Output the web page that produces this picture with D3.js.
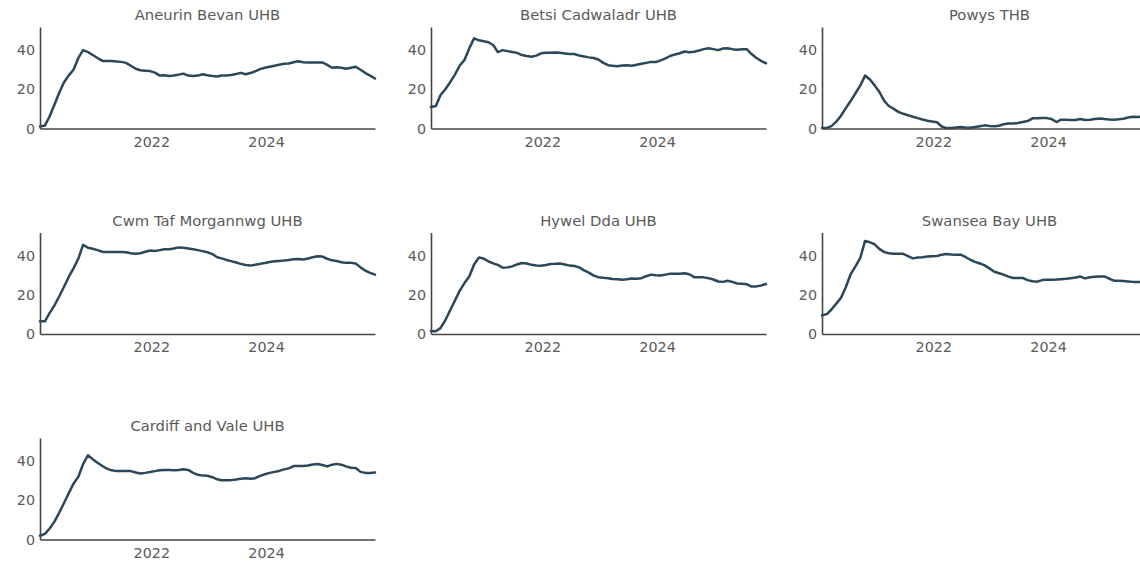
<!DOCTYPE html>
<html>
<head>
<meta charset="utf-8">
<script src="https://cdn.jsdelivr.net/npm/d3@7"></script>
<style>
  html, body { margin: 0; padding: 0; background: #fff; overflow: hidden; }
  svg { display: block; }
</style>
</head>
<body>
<svg id="chart" width="1140" height="563"></svg>
<script>
// ---- Data (monthly values, Jan 2020 – Nov 2025) ----
const boards = [
  "Aneurin Bevan UHB", "Betsi Cadwaladr UHB", "Powys THB",
  "Cwm Taf Morgannwg UHB", "Hywel Dda UHB", "Swansea Bay UHB",
  "Cardiff and Vale UHB"
];

const startMonth = "2020-01-24";
const monthCount = 71;

const aneurinBevan = [1,1.5,6,12,18,23.5,27,30,36,40,39,37.5,36,34.5,34.5,34.4,34.2,34,33.5,32,30.5,29.7,29.5,29.3,28.5,27,27.2,26.8,27,27.5,28,27,26.8,27,27.7,27.2,26.8,26.5,27,27,27.3,27.8,28.4,27.7,28.3,29.2,30.3,31,31.5,32,32.5,33,33.2,33.8,34.3,33.8,33.7,33.7,33.7,33.7,32.5,31,31.2,31,30.5,31,31.5,30,28.3,27,25.5];
const betsiCadwaladr = [11,11.5,17,20,23.5,27.5,32,35,41,46,45,44.5,44,42.5,39,40,39.5,39,38.6,37.5,37,36.6,37.2,38.4,38.6,38.6,38.8,38.6,38.3,38,38,37.2,36.8,36.3,36,35.2,33.5,32.3,32,31.8,32.2,32.3,32,32.5,33,33.5,34,33.9,34.8,35.8,37,37.8,38.4,39.3,38.9,39.2,39.8,40.5,41,40.5,40,40.8,41,40.5,40.2,40.4,40.5,38,36,34.5,33.3];
const powys = [0.3,0.3,1.2,3.5,6.5,10.5,14,18,22,27,25,22,18.5,14,11.5,10,8.5,7.5,6.8,6,5.3,4.6,4,3.6,3.2,1,0.2,0.3,0.5,0.8,0.5,0.4,0.8,1.2,1.6,1.3,1.2,1.4,2.2,2.6,2.6,2.8,3.3,3.8,5.2,5.2,5.4,5.3,4.8,3.3,4.5,4.5,4.3,4.3,4.8,4.3,4.5,4.8,5.1,4.8,4.6,4.5,4.7,5,5.6,6,5.9,6,6.1,6,6];
const cwmTaf = [6.5,6.5,10.5,14.5,19,24,29,33.5,38.5,45.5,44,43.5,42.8,42,41.8,41.8,41.8,41.8,41.7,41.2,41,41.2,42,42.6,42.4,42.8,43.3,43.3,43.6,44.2,44,43.6,43.2,42.8,42.3,41.7,40.8,39.2,38.6,37.8,37.2,36.5,35.8,35.2,34.9,35.3,35.8,36.2,36.7,37.1,37.3,37.5,37.8,38.2,38.3,38,38.5,39.2,39.7,39.5,38.4,37.6,37.3,36.6,36.3,36.3,36,34,32.3,31.2,30.3];
const hywelDda = [1.5,1.4,3,7,12,17,22,26,29.5,35.5,39,38.5,37,36,35.3,33.8,34,34.5,35.5,36.2,36,35.3,35,34.8,35.2,35.7,35.8,36,35.5,34.9,34.7,34,32.5,31.3,29.8,29,28.7,28.5,28.1,28,27.7,27.9,28.3,28.2,28.5,29.5,30.3,30,29.9,30.3,30.7,30.8,30.8,31,30.5,29,28.9,28.9,28.5,27.8,26.8,26.6,27.2,26.6,25.8,25.7,25.4,24.2,24.3,24.8,25.5];
const swanseaBay = [9.5,10.2,12.5,15.5,18.5,24,30.5,34.5,39,47.5,46.8,45.8,43.3,41.8,41.2,41,41,40.9,39.8,38.6,39,39.2,39.5,39.7,39.8,40.5,40.8,40.6,40.5,40.5,39.3,37.9,36.8,36,35,33.5,31.8,31,30.3,29.3,28.6,28.6,28.6,27.5,26.9,26.7,27.5,27.7,27.7,27.8,28,28.2,28.5,28.8,29.3,28.4,29,29.2,29.3,29.4,28.2,27.2,27.2,27,26.8,26.6,26.6,26.5,26.3,26.2,26];
const cardiffVale = [1.9,2.9,5.5,9,13.5,18.5,23.5,28.5,32,38.5,43,41,39.2,37.5,36.2,35.3,34.9,34.9,34.9,34.9,34.2,33.7,34,34.4,34.9,35.3,35.5,35.5,35.4,35.5,35.8,35.5,34,33,32.6,32.5,31.8,30.7,30.2,30.2,30.3,30.6,31,31.2,31,31.3,32.5,33.3,34,34.5,35,35.8,36.3,37.5,37.5,37.5,37.8,38.3,38.5,38,37.3,38.2,38.6,38.2,37.3,36.6,36.5,34.5,34,33.9,34.2];

const seriesValues = [aneurinBevan, betsiCadwaladr, powys, cwmTaf, hywelDda, swanseaBay, cardiffVale];

const xTickYears = [2022, 2024];
const yTickValues = [0, 20, 40];
const yMax = 51.8;

// ---- Layout ----
const cols = 3;
const panelW = 335, panelH = 101.5;
const colStep = 391, rowStep = 205.5;
const originX = 40, originY = 27;

const FONT = "'DejaVu Sans', Verdana, sans-serif";
const lineColor = "#2a4859";
const axisColor = "#444";
const textColor = "#5a5a5a";

const parse = d3.timeParse("%Y-%m-%d");
const t0 = parse(startMonth);
const dates = d3.range(monthCount).map(i => d3.timeMonth.offset(t0, i));

const x = d3.scaleTime().domain([dates[0], dates[dates.length - 1]]).range([0, panelW]);
const y = d3.scaleLinear().domain([0, yMax]).range([panelH, 0]);

const svg = d3.select("#chart");

boards.forEach((name, k) => {
  const c = k % cols, r = Math.floor(k / cols);
  const g = svg.append("g")
    .attr("transform", `translate(${originX + c * colStep},${originY + r * rowStep})`);

  // title
  g.append("text")
    .attr("x", panelW / 2)
    .attr("y", -7)
    .attr("text-anchor", "middle")
    .attr("font-family", FONT)
    .attr("font-size", 14.8)
    .attr("fill", textColor)
    .text(name);

  // line
  const vals = seriesValues[k];
  const line = d3.line()
    .x((d, i) => x(dates[i]))
    .y(d => y(d));
  g.append("path")
    .datum(vals)
    .attr("fill", "none")
    .attr("stroke", lineColor)
    .attr("stroke-width", 2.5)
    .attr("stroke-linejoin", "round")
    .attr("stroke-linecap", "round")
    .attr("d", line);

  // x axis
  const xAxis = d3.axisBottom(x)
    .tickValues(xTickYears.map(yr => new Date(yr, 0, 1)))
    .tickFormat(d3.timeFormat("%Y"))
    .tickSize(0)
    .tickPadding(8);
  const gx = g.append("g").attr("transform", `translate(0,${panelH})`).call(xAxis);
  gx.select(".domain").attr("stroke", axisColor).attr("stroke-width", 1.6);
  gx.selectAll("text").attr("font-family", FONT).attr("font-size", 14.3).attr("fill", textColor);

  // y axis
  const yAxis = d3.axisLeft(y)
    .tickValues(yTickValues)
    .tickSize(0)
    .tickPadding(5);
  const gy = g.append("g").call(yAxis);
  gy.select(".domain").attr("stroke", axisColor).attr("stroke-width", 1.6);
  gy.selectAll("text").attr("font-family", FONT).attr("font-size", 14.3).attr("fill", textColor);
});
</script>
</body>
</html>
